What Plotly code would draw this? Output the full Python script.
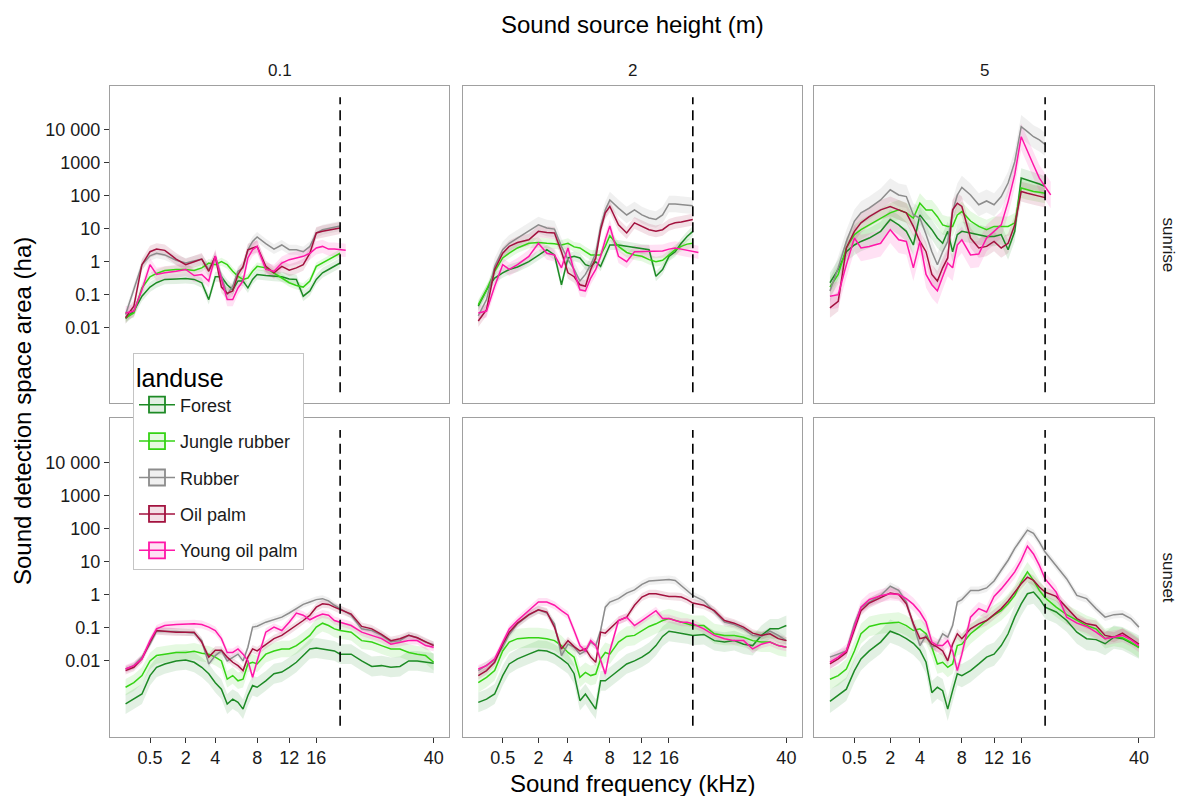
import numpy as np
import plotly.graph_objects as go

# ---------------- data ----------------
F_SUNRISE = [0.05, 0.15, 0.3, 0.5, 0.7, 1, 1.5, 2, 2.5, 3, 3.5, 4, 4.5, 5, 5.5, 6, 6.5, 7, 7.5, 8,
             9, 10, 11, 12, 13, 14, 15, 16, 17, 18, 19, 20, 21]
F_SUNSET = [0.05, 0.15, 0.3, 0.5, 0.7, 1, 1.5, 2, 2.5, 3, 3.5, 4, 4.5, 5, 5.5, 6, 6.5, 7, 7.5, 8,
            9, 10, 11, 12, 13, 14, 15, 16, 17, 18, 19, 20, 22, 24, 26, 28, 30, 32, 34, 36, 38, 40]

X_TICK_KHZ = [0.5, 2, 4, 8, 12, 16, 40]
X_TICK_TEXT = ["0.5", "2", "4", "8", "12", "16", "40"]
Y_TICK_HA = [0.01, 0.1, 1, 10, 100, 1000, 10000]
Y_TICK_TEXT = ["0.01", "0.1", "1", "10", "100", "1000", "10 000"]
HEIGHTS = ["0.1", "2", "5"]
TIMES = ["sunrise", "sunset"]
LANDUSE = ["Forest", "Jungle rubber", "Rubber", "Oil palm", "Young oil palm"]
HEARING_LIMIT_KHZ = 20
DASH_Y_HA = [1.1e-4, 9.5e4]

# sunrise, source height 0.1 m
SR_H01_FOREST = [0.019, 0.032, 0.09, 0.17, 0.23, 0.29, 0.30, 0.31, 0.29, 0.23, 0.071, 0.35, 0.35, 0.20, 0.14, 0.26, 0.26, 0.16, 0.29, 0.41, 0.38, 0.36, 0.35, 0.30, 0.29, 0.09, 0.13, 0.29, 0.46, 0.58, 0.72, 0.91, None]
SR_H01_JUNGLE = [0.020, 0.028, 0.16, 0.35, 0.44, 0.54, 0.58, 0.58, 0.54, 0.65, 0.91, 0.81, 1.0, 0.81, 0.51, 0.36, 0.29, 0.32, 0.51, 0.72, 0.65, 0.44, 0.32, 0.23, 0.19, 0.17, 0.26, 0.72, 0.91, 1.15, 1.45, 1.8, None]
SR_H01_RUBBER = [0.025, 0.14, 0.81, 1.5, 1.8, 1.6, 1.1, 0.91, 1.07, 1.2, 0.58, 1.4, 0.36, 0.1, 0.18, 0.51, 0.65, 2.3, 4.1, 5.6, 3.5, 2.4, 3.2, 2.3, 2.3, 2.0, 2.9, 7.4, 9.3, 10, 11, 12, None]
SR_H01_OILPALM = [0.020, 0.045, 0.81, 2.0, 2.4, 2.2, 1.2, 0.81, 1.0, 1.2, 0.51, 1.45, 0.17, 0.11, 0.13, 0.41, 0.72, 2.3, 2.6, 2.9, 0.72, 0.46, 0.72, 0.55, 0.65, 0.81, 1.8, 7.4, 8.3, 8.9, 9.7, 10.5, None]
SR_H01_YOUNG = [0.028, 0.032, 0.14, 0.81, 0.41, 0.46, 0.51, 0.58, 0.38, 0.41, 0.26, 1.5, 0.29, 0.071, 0.071, 0.16, 0.26, 1.3, 2.3, 2.9, 0.58, 0.51, 0.91, 1.15, 1.3, 1.45, 1.8, 2.6, 2.9, 2.4, 2.4, 2.3, 2.2]

# sunrise, source height 2 m
SR_H2_FOREST = [0.045, 0.14, 0.32, 0.46, 0.58, 0.69, 1.0, 1.6, 2.3, 1.6, 0.20, 1.3, 1.45, 1.3, 0.81, 0.72, 1.0, 0.72, 1.6, 3.2, 3.2, 2.9, 2.6, 2.4, 2.3, 0.36, 0.58, 1.45, 2.0, 3.6, 5.8, 8.3, None]
SR_H2_JUNGLE = [0.050, 0.14, 0.51, 1.3, 1.8, 2.6, 3.6, 3.8, 3.6, 3.5, 3.2, 3.6, 2.8, 2.6, 2.0, 1.6, 1.6, 1.6, 2.9, 6.1, 2.9, 1.9, 1.6, 1.45, 1.15, 1.0, 1.1, 1.6, 2.3, 2.9, 3.4, 3.6, None]
SR_H2_RUBBER = [0.023, 0.071, 0.72, 2.3, 3.6, 5.2, 8.3, 13, 10.5, 9.7, 2.9, 1.15, 0.58, 0.26, 0.41, 0.81, 1.8, 11.7, 37, 74, 42, 26, 37, 26, 21, 19, 26, 56, 56, 53, 50, 49, None]
SR_H2_OILPALM = [0.016, 0.035, 0.58, 1.8, 2.9, 3.8, 4.6, 8.3, 7.7, 7.4, 2.0, 0.46, 0.35, 0.20, 0.18, 0.58, 1.3, 9.3, 30, 47, 13, 7.4, 15, 11.7, 9.3, 8.3, 9.3, 13, 15, 16, 17, 19, None]
SR_H2_YOUNG = [0.028, 0.032, 0.18, 0.81, 0.58, 0.81, 1.45, 3.6, 1.8, 1.6, 0.65, 2.6, 0.51, 0.14, 0.13, 0.32, 0.58, 1.45, 4.6, 12, 1.45, 1.0, 2.0, 2.0, 2.0, 2.0, 2.1, 2.4, 2.6, 2.4, 2.2, 2.1, 1.9]

# sunrise, source height 5 m
SR_H5_FOREST = [0.23, 0.58, 2.0, 3.2, 4.1, 5.2, 8.3, 19, 13, 8.3, 3.2, 26, 15, 9.3, 5.2, 3.6, 8.3, 2.0, 6.6, 8.3, 7.4, 6.6, 5.8, 5.8, 6.6, 2.3, 8.3, 340, 300, 255, 225, 190, None]
SR_H5_JUNGLE = [0.17, 0.41, 2.6, 6.6, 9.3, 13, 21, 30, 37, 30, 21, 59, 37, 37, 23, 13, 11.7, 11.7, 26, 33, 17, 11.7, 9.3, 11.7, 11.7, 11.7, 15, 170, 150, 133, 127, 118, None]
SR_H5_RUBBER = [0.13, 0.65, 4.1, 17, 30, 42, 74, 150, 105, 94, 26, 21, 6.6, 2.0, 0.81, 2.0, 4.1, 33, 105, 178, 105, 53, 69, 53, 94, 240, 1070, 12300, 8700, 6100, 4900, 3550, None]
SR_H5_OILPALM = [0.040, 0.063, 2.6, 8.3, 15, 23, 37, 47, 37, 30, 11.7, 4.1, 2.0, 0.41, 0.26, 0.65, 1.3, 37, 59, 47, 5.2, 2.6, 2.9, 4.1, 2.6, 3.6, 13, 133, 118, 105, 94, 87, None]
SR_H5_YOUNG = [0.089, 0.10, 0.81, 5.2, 2.6, 2.9, 3.6, 9.3, 4.6, 4.1, 0.65, 4.1, 0.41, 0.20, 0.13, 0.36, 0.91, 0.65, 3.2, 4.6, 1.6, 1.7, 5.2, 8.3, 13, 66, 430, 6100, 2150, 850, 340, 190, 105]

# sunset, source height 0.1 m
SS_H01_FOREST = [0.0005, 0.0007, 0.001, 0.0036, 0.0064, 0.0081, 0.010, 0.0107, 0.0091, 0.0064, 0.0041, 0.0022, 0.0014, 0.0005, 0.0007, 0.00056, 0.00035, 0.0009, 0.0018, 0.0016, 0.0025, 0.0041, 0.0046, 0.0064, 0.0091, 0.0145, 0.023, 0.0246, 0.023, 0.0215, 0.020, 0.016, 0.016, 0.010, 0.0068, 0.0072, 0.0064, 0.0068, 0.010, 0.010, 0.0091, 0.0085]
SS_H01_JUNGLE = [0.0016, 0.0022, 0.0036, 0.010, 0.0145, 0.016, 0.018, 0.018, 0.0195, 0.017, 0.016, 0.013, 0.010, 0.0028, 0.0036, 0.0025, 0.0028, 0.0081, 0.0091, 0.0081, 0.016, 0.020, 0.023, 0.023, 0.029, 0.041, 0.059, 0.105, 0.138, 0.117, 0.093, 0.083, 0.074, 0.041, 0.037, 0.029, 0.023, 0.023, 0.018, 0.016, 0.0145, 0.0091]
SS_H01_RUBBER = [0.0057, 0.0072, 0.013, 0.032, 0.079, 0.079, 0.078, 0.074, 0.069, 0.041, 0.0081, 0.0145, 0.020, 0.010, 0.013, 0.016, 0.010, 0.026, 0.105, 0.112, 0.148, 0.18, 0.21, 0.28, 0.38, 0.51, 0.60, 0.71, 0.76, 0.65, 0.48, 0.38, 0.24, 0.093, 0.083, 0.059, 0.038, 0.041, 0.059, 0.050, 0.037, 0.031]
SS_H01_OILPALM = [0.0051, 0.0064, 0.0115, 0.037, 0.083, 0.079, 0.074, 0.074, 0.074, 0.037, 0.013, 0.021, 0.021, 0.013, 0.0091, 0.0072, 0.0051, 0.013, 0.023, 0.020, 0.032, 0.047, 0.059, 0.083, 0.117, 0.166, 0.24, 0.42, 0.53, 0.51, 0.42, 0.35, 0.26, 0.11, 0.093, 0.063, 0.041, 0.047, 0.059, 0.050, 0.037, 0.029]
SS_H01_YOUNG = [0.0057, 0.0072, 0.0115, 0.041, 0.093, 0.117, 0.126, 0.132, 0.132, 0.126, 0.105, 0.083, 0.047, 0.018, 0.018, 0.023, 0.016, 0.010, 0.0032, 0.010, 0.074, 0.105, 0.083, 0.148, 0.28, 0.24, 0.175, 0.22, 0.26, 0.24, 0.166, 0.148, 0.117, 0.074, 0.059, 0.047, 0.032, 0.037, 0.041, 0.041, 0.029, 0.026]

# sunset, source height 2 m
SS_H2_FOREST = [0.00056, 0.0007, 0.001, 0.0036, 0.0081, 0.0115, 0.016, 0.021, 0.020, 0.016, 0.0115, 0.0081, 0.0041, 0.00063, 0.001, 0.00056, 0.00035, 0.0025, 0.0025, 0.0032, 0.0051, 0.0081, 0.010, 0.013, 0.018, 0.029, 0.055, 0.079, 0.074, 0.069, 0.066, 0.059, 0.063, 0.041, 0.037, 0.041, 0.032, 0.029, 0.059, 0.093, 0.093, 0.117]
SS_H2_JUNGLE = [0.0022, 0.0032, 0.0051, 0.020, 0.037, 0.047, 0.050, 0.050, 0.047, 0.041, 0.029, 0.018, 0.013, 0.0032, 0.0045, 0.0036, 0.0040, 0.0115, 0.018, 0.016, 0.037, 0.055, 0.059, 0.083, 0.11, 0.132, 0.166, 0.19, 0.166, 0.148, 0.132, 0.117, 0.117, 0.066, 0.059, 0.059, 0.052, 0.041, 0.037, 0.037, 0.029, 0.026]
SS_H2_RUBBER = [0.0051, 0.0072, 0.0107, 0.026, 0.063, 0.132, 0.24, 0.35, 0.28, 0.132, 0.0145, 0.032, 0.026, 0.016, 0.020, 0.037, 0.029, 0.083, 0.42, 0.60, 0.76, 1.12, 1.4, 2.05, 2.6, 2.7, 2.8, 2.9, 2.7, 1.9, 1.35, 0.95, 0.65, 0.30, 0.148, 0.126, 0.093, 0.059, 0.055, 0.079, 0.059, 0.041]
SS_H2_OILPALM = [0.0036, 0.0051, 0.0091, 0.032, 0.074, 0.138, 0.25, 0.35, 0.30, 0.105, 0.023, 0.041, 0.027, 0.020, 0.023, 0.013, 0.0091, 0.074, 0.069, 0.093, 0.166, 0.21, 0.48, 0.85, 1.07, 1.07, 0.95, 0.89, 0.89, 0.85, 0.71, 0.56, 0.48, 0.33, 0.166, 0.138, 0.105, 0.069, 0.059, 0.066, 0.047, 0.041]
SS_H2_YOUNG = [0.0057, 0.0072, 0.0115, 0.037, 0.093, 0.166, 0.33, 0.60, 0.60, 0.48, 0.33, 0.24, 0.083, 0.029, 0.020, 0.041, 0.029, 0.010, 0.0040, 0.020, 0.166, 0.21, 0.117, 0.166, 0.24, 0.33, 0.19, 0.19, 0.166, 0.148, 0.148, 0.132, 0.093, 0.059, 0.047, 0.041, 0.041, 0.023, 0.032, 0.037, 0.029, 0.026]

# sunset, source height 5 m
SS_H5_FOREST = [0.0006, 0.0009, 0.0014, 0.0051, 0.0115, 0.020, 0.037, 0.079, 0.063, 0.047, 0.034, 0.021, 0.0091, 0.0011, 0.0016, 0.00126, 0.00035, 0.00126, 0.0041, 0.0036, 0.0051, 0.0081, 0.013, 0.016, 0.029, 0.066, 0.21, 0.53, 1.07, 1.2, 0.76, 0.42, 0.30, 0.166, 0.074, 0.047, 0.044, 0.033, 0.052, 0.047, 0.034, 0.026]
SS_H5_JUNGLE = [0.0028, 0.0036, 0.0057, 0.020, 0.066, 0.11, 0.132, 0.142, 0.148, 0.117, 0.083, 0.093, 0.066, 0.026, 0.0081, 0.0091, 0.0064, 0.0081, 0.029, 0.032, 0.066, 0.105, 0.166, 0.24, 0.33, 0.53, 0.95, 2.4, 4.9, 2.7, 1.35, 0.81, 0.42, 0.25, 0.166, 0.117, 0.093, 0.047, 0.055, 0.050, 0.037, 0.025]
SS_H5_RUBBER = [0.013, 0.016, 0.020, 0.132, 0.41, 0.60, 0.95, 1.8, 1.35, 0.60, 0.132, 0.029, 0.059, 0.026, 0.032, 0.066, 0.052, 0.117, 0.60, 0.71, 1.35, 1.35, 1.6, 2.6, 5.5, 11, 25, 50, 89, 71, 39, 19.5, 7.7, 3.0, 0.95, 0.76, 0.38, 0.21, 0.25, 0.26, 0.19, 0.105]
SS_H5_OILPALM = [0.0081, 0.0115, 0.018, 0.093, 0.33, 0.56, 0.81, 1.12, 1.02, 0.53, 0.132, 0.047, 0.052, 0.032, 0.026, 0.020, 0.010, 0.032, 0.066, 0.047, 0.093, 0.132, 0.166, 0.26, 0.38, 0.65, 1.2, 2.15, 3.4, 2.7, 1.7, 1.2, 0.89, 0.42, 0.19, 0.132, 0.117, 0.059, 0.052, 0.069, 0.047, 0.032]
SS_H5_YOUNG = [0.0091, 0.013, 0.020, 0.105, 0.42, 0.71, 0.93, 1.07, 1.02, 0.76, 0.51, 0.30, 0.148, 0.037, 0.029, 0.029, 0.041, 0.020, 0.0051, 0.016, 0.21, 0.38, 0.30, 0.89, 1.5, 2.7, 4.9, 11, 29, 17, 7.7, 3.0, 1.2, 0.21, 0.138, 0.11, 0.074, 0.047, 0.052, 0.059, 0.044, 0.029]

# confidence-band half widths (decades), order: Forest, Jungle rubber, Rubber, Oil palm, Young oil palm
BAND_SR_H01 = [0.15, 0.12, 0.15, 0.18, 0.20]
BAND_SR_H2 = [0.15, 0.15, 0.25, 0.18, 0.20]
BAND_SR_H5 = [0.30, 0.30, 0.35, 0.30, 0.40]
BAND_SS_H01 = [0.30, 0.25, 0.10, 0.12, 0.12]
BAND_SS_H2 = [0.30, 0.30, 0.12, 0.12, 0.12]
BAND_SS_H5 = [0.35, 0.30, 0.12, 0.15, 0.20]

# ---------------- assembly ----------------
PANELS = {
    ("sunrise", "0.1"): ([SR_H01_FOREST, SR_H01_JUNGLE, SR_H01_RUBBER, SR_H01_OILPALM, SR_H01_YOUNG], BAND_SR_H01),
    ("sunrise", "2"): ([SR_H2_FOREST, SR_H2_JUNGLE, SR_H2_RUBBER, SR_H2_OILPALM, SR_H2_YOUNG], BAND_SR_H2),
    ("sunrise", "5"): ([SR_H5_FOREST, SR_H5_JUNGLE, SR_H5_RUBBER, SR_H5_OILPALM, SR_H5_YOUNG], BAND_SR_H5),
    ("sunset", "0.1"): ([SS_H01_FOREST, SS_H01_JUNGLE, SS_H01_RUBBER, SS_H01_OILPALM, SS_H01_YOUNG], BAND_SS_H01),
    ("sunset", "2"): ([SS_H2_FOREST, SS_H2_JUNGLE, SS_H2_RUBBER, SS_H2_OILPALM, SS_H2_YOUNG], BAND_SS_H2),
    ("sunset", "5"): ([SS_H5_FOREST, SS_H5_JUNGLE, SS_H5_RUBBER, SS_H5_OILPALM, SS_H5_YOUNG], BAND_SS_H5),
}
FREQS = {"sunrise": F_SUNRISE, "sunset": F_SUNSET}

LINE_COL = ["#1d8a25", "#35d314", "#8c8c8c", "#a3123f", "#ff17a8"]
FILL_RGB = ["29,138,37", "53,211,20", "140,140,140", "163,18,63", "255,23,168"]

FONT = "Liberation Sans, Arial, sans-serif"
W, H = 1179, 796
COL_X = [(110, 449), (462.7, 801.7), (814.3, 1154.3)]
ROW_Y = [(85.7, 403.3), (418.3, 736.7)]
X_RANGE = [-0.085, 6.628]
Y_RANGE = [-4.29, 5.33]

fig = go.Figure()
layout = {}

for r, tod in enumerate(TIMES):
    for c, hgt in enumerate(HEIGHTS):
        p = r * 3 + c
        sfx = "" if p == 0 else str(p + 1)
        xa, ya = "x" + sfx, "y" + sfx
        series, bands = PANELS[(tod, hgt)]
        freqs = FREQS[tod]
        # bands first
        for k, vals in enumerate(series):
            xs = [np.sqrt(f) for f, v in zip(freqs, vals) if v is not None]
            vs = np.array([v for v in vals if v is not None], dtype=float)
            lo = vs / 10 ** bands[k]
            hi = vs * 10 ** bands[k]
            fig.add_trace(go.Scatter(
                x=xs + xs[::-1], y=list(hi) + list(lo[::-1]), xaxis=xa, yaxis=ya,
                mode="lines", line=dict(width=0), fill="toself",
                fillcolor="rgba(%s,0.13)" % FILL_RGB[k], hoverinfo="skip", showlegend=False))
        for k, vals in enumerate(series):
            xs = [np.sqrt(f) for f, v in zip(freqs, vals) if v is not None]
            vs = [v for v in vals if v is not None]
            fig.add_trace(go.Scatter(
                x=xs, y=vs, xaxis=xa, yaxis=ya, mode="lines",
                line=dict(color=LINE_COL[k], width=1.5), name=LANDUSE[k], showlegend=False))
        # hearing limit
        fig.add_trace(go.Scatter(
            x=[np.sqrt(HEARING_LIMIT_KHZ)] * 2, y=DASH_Y_HA, xaxis=xa, yaxis=ya, mode="lines",
            line=dict(color="black", width=1.6, dash="10px,6px"), hoverinfo="skip", showlegend=False))

        x0, x1 = COL_X[c]
        y0, y1 = ROW_Y[r]
        layout["xaxis" + sfx] = dict(
            domain=[x0 / W, x1 / W], range=X_RANGE, anchor=ya,
            showline=True, mirror=True, linecolor="#a0a0a0", linewidth=1.2,
            showgrid=False, zeroline=False,
            tickvals=[np.sqrt(t) for t in X_TICK_KHZ], ticktext=X_TICK_TEXT,
            showticklabels=(r == 1), ticks="outside" if r == 1 else "",
            ticklen=5, tickcolor="#333333", tickfont=dict(size=18, color="#1a1a1a", family=FONT))
        layout["yaxis" + sfx] = dict(
            domain=[1 - y1 / H, 1 - y0 / H], type="log", range=Y_RANGE, anchor=xa,
            showline=True, mirror=True, linecolor="#a0a0a0", linewidth=1.2,
            showgrid=False, zeroline=False,
            tickvals=Y_TICK_HA, ticktext=Y_TICK_TEXT,
            showticklabels=(c == 0), ticks="outside" if c == 0 else "",
            ticklen=5, tickcolor="#333333", tickfont=dict(size=18, color="#1a1a1a", family=FONT))

# legend entries (keys only)
for k, name in enumerate(LANDUSE):
    fig.add_trace(go.Scatter(
        x=[None], y=[None], xaxis="x", yaxis="y", mode="lines+markers", name=name,
        legendgroup=name, showlegend=True,
        line=dict(color=LINE_COL[k], width=1.5),
        marker=dict(symbol="square", size=16, color="rgba(%s,0.13)" % FILL_RGB[k],
                    line=dict(color=LINE_COL[k], width=1.8))))


def note(x, y, text, size, angle=0, color="#1a1a1a"):
    return dict(x=x / W, y=1 - y / H, xref="paper", yref="paper", text=text, showarrow=False,
                xanchor="center", yanchor="middle", textangle=angle,
                font=dict(size=size, color=color, family=FONT))


annotations = []
for c, hgt in enumerate(HEIGHTS):
    x0, x1 = COL_X[c]
    annotations.append(note((x0 + x1) / 2, 70, hgt, 17))
for r, tod in enumerate(TIMES):
    y0, y1 = ROW_Y[r]
    annotations.append(note(1168, (y0 + y1) / 2, tod, 17, angle=90))
annotations.append(note(632, 25, "Sound source height (m)", 24, color="black"))
annotations.append(note(632, 783, "Sound frequency (kHz)", 24, color="black"))
annotations.append(note(22, 411, "Sound detection space area (ha)", 24, angle=-90, color="black"))

fig.update_layout(
    width=W, height=H, margin=dict(l=0, r=0, t=0, b=0),
    paper_bgcolor="white", plot_bgcolor="white",
    font=dict(family=FONT, color="#1a1a1a"),
    annotations=annotations,
    showlegend=True,
    legend=dict(x=133 / W, y=1 - 353 / H, xanchor="left", yanchor="top",
                bgcolor="white", bordercolor="#c4c4c4", borderwidth=1,
                font=dict(size=18, family=FONT, color="#1a1a1a"),
                title=dict(text="landuse", font=dict(size=25, family=FONT, color="black")),
                traceorder="grouped", tracegroupgap=10, itemwidth=36),
    **layout,
)

fig.write_html("out.html")
